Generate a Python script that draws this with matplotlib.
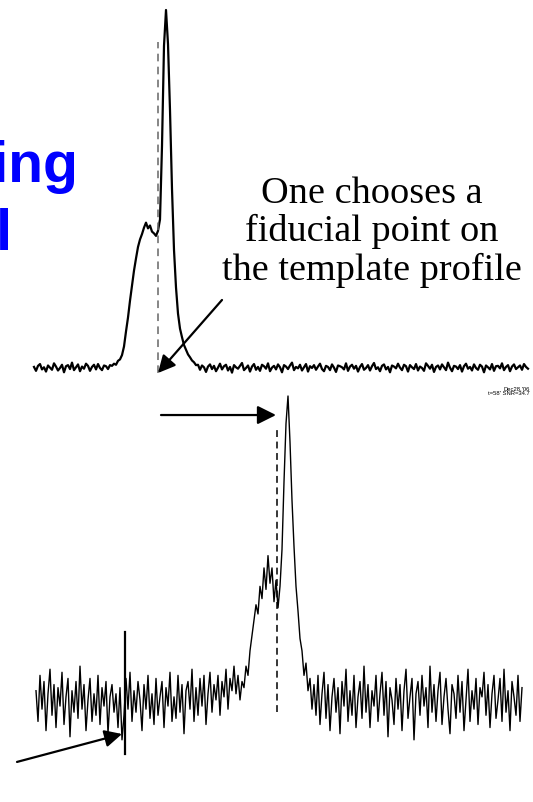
import matplotlib
matplotlib.use('Agg')
import matplotlib.pyplot as plt
import numpy as np

# template profile (percent of peak), one value per phase bin
template = [
    0.3, -0.8, 0.6, 1.1, -0.4, 0.2, -1.0, 0.7, 0.1, -0.5,
    1.3, 0.4, -0.7, 0.0, 0.9, -1.2, 0.5, 0.8, -0.3, 1.5,
    -0.6, 0.2, 1.0, -0.9, 0.4, -0.2, 1.2, 0.6, -0.8, 0.3,
    0.9, -0.4, 1.1, 0.0, -0.6, 0.7, 0.5, -0.3, 0.8,
    0.6, 1.2, 0.9, 2.0, 2.4, 3.6, 6.0, 10.2, 14.1, 18.8,
    23.0, 27.2, 30.6, 33.8, 35.9, 37.4, 39.2, 40.6, 39.0, 39.8,
    38.1, 37.6, 36.9, 38.3, 41.5, 62.0, 90.0, 100.0, 90.5, 72.0,
    50.0, 33.0, 22.5, 15.2, 11.0, 8.6, 6.4, 5.1, 3.8, 3.0,
    2.1, 1.6, 0.8, 0.9,
    -0.5, 0.7, 0.2, -1.1, 0.4, 1.0, -0.3, 0.6, -0.9, 0.1,
    1.2, -0.4, 0.5, 0.9, -0.7, 0.3, -1.3, 0.8, 0.2, -0.2,
    0.6, 1.4, -0.6, 0.0, 0.7, -1.0, 0.4, 1.1, -0.5, 0.3,
    -0.8, 0.9, 0.5, -0.2, 1.3, -0.9, 0.1, 0.6, -0.4, 1.0,
    0.2, -1.2, 0.8, 0.4, -0.3, 0.7, 1.5, -0.6, 0.3, -0.1,
    0.9, -0.7, 0.2, 1.1, -1.0, 0.5, 0.0, 0.8, -0.5, 0.4,
    1.2, -0.3, -0.9, 0.6, 0.3, -0.6, 1.0, 0.1, -1.1, 0.7,
    0.5, 0.2, -0.4, 1.3, -0.8, 0.4, 0.9, -0.2, 0.6, -1.0,
    0.3, 1.1, -0.5, 0.0, 0.8, -0.7, 0.5, 1.4, -0.3, 0.2,
    -0.9, 0.6, 1.0, -0.4, 0.3, -1.2, 0.7, 0.4, -0.1, 1.2,
    0.1, -0.6, 0.9, 0.5, -1.0, 0.8, 0.2, -0.3, 1.1, -0.7,
    0.4, 0.0, -0.8, 1.3, 0.6, -0.2, 0.9, -1.1, 0.3, 0.7,
    -0.4, 1.0, 0.2, -0.6, 1.5, 0.1, -0.9, 0.6, 0.4, -0.3,
    0.8, -1.0, 0.5, 1.2, -0.2, 0.3, -0.7, 1.0, 0.0, -0.5,
    0.9, 0.4, -1.2, 0.7, 0.2, -0.4, 1.1, -0.8, 0.5, 0.6,
    -0.1, 1.3, -0.6, 0.3, 0.8, -0.9, 0.4, 1.0, -0.3, 0.2,
    0.7, -0.5, 1.1, 0.3, -0.2,
]

# single observation (percent of peak)
observed = [
    4, -6, 9, -2, 7, -9, 3, 11, -4, 6,
    -8, 5, -1, 10, -7, 2, 8, -11, 4, -3,
    7, -5, 12, -2, 6, -9, 1, 8, -6, 3,
    -4, 9, -7, 5, -1, 7, -10, 2, 6, -3,
    3, -8, 5, -12, -4, 8, -2, 10, -6, 4,
    -3, 7, 1, -9, 6, -2, 9, -5, 3, -7,
    8, -4, 2, 7, -8, 5, -1, 10, -6, 2,
    -5, 9, -3, 6, -10, 4, 7, -2, 11, -6,
    5, -4, 8, -1, 9, -7, 3, 10, -3, 6,
    1, 9, -4, 7, 2, 11, -2, 8, 4, 12,
    3, 9, 1, 7, 5, 12, 9, 17, 22, 27,
    32, 29, 38, 34, 44, 37, 48, 39, 44, 33,
    40, 31, 38, 50, 72, 91, 100, 85, 66, 51,
    38, 30, 21, 17, 9, 13, 4, 8, -2, 6,
    -4,
    9, -7, 3, 10, -5, 6, -9, 2, 8, -3,
    5, -10, 7, -1, 11, -6, 4, -4, 9, -8,
    2, 7, -5, 12, -3, 6, -8, 4, -1, 9,
    -6, 3, 10, -4, 7, -11, 5, 1, -7, 8,
    -2, 6, -9, 4, 11, -5, 2, 8, -12, 3,
    7, -4, 9, -1, 5, -8, 12, -3, 6, -6,
    4, 10, -7, 2, 8, -2, -10, 6, 3, -5,
    9, -3, 7, -9, 1, 11, -6, 4, -2, 8,
    -7, 5, 2, 10, -4, 6, -8, 3, 9, -5,
    1, 8, -6, 11, -3, 4, -9, 7, 2, -4,
    9, -6, 5,
]

fiducial_template = 62.0
fiducial_observed = 120.5
obs_start = 44.5

caption = ['One chooses a', 'fiducial point on', 'the template profile']
stamp = ["Dec28,'06", "t=58' SNR=34.7"]

W, H = 533, 802
fig = plt.figure(figsize=(W / 100, H / 100), dpi=100)

# template on top
ax1 = fig.add_axes([0, 0, 1, 1])
ax1.set_xlim(-17, 249.5)
ax1.set_ylim(-121.23, 102.79)
ax1.axis('off')
ax1.plot(np.arange(len(template)), template, color='black', lw=1.6)
ax1.plot([fiducial_template, fiducial_template], [-1.4, 91.1],
         color='0.4', lw=1.1, ls=(0, (5, 3.5)))
ax1.annotate('', xy=(fiducial_template, -1.4), xytext=(94, 19.0),
             arrowprops=dict(arrowstyle='-|>', mutation_scale=26, lw=1.6,
                             color='black', shrinkA=0, shrinkB=0))

# observed profile below
ax2 = fig.add_axes([0, 0, 1, 1])
ax2.set_xlim(-18, 248.5)
ax2.set_ylim(-32.25, 228.99)
ax2.axis('off')
ax2.patch.set_alpha(0)
ax2.plot(np.arange(len(observed)), observed, color='black', lw=1.0)
ax2.plot([fiducial_observed, fiducial_observed], [-2.9, 89.6],
         color='black', lw=1.1, ls=(0, (4.5, 3)))
ax2.plot([obs_start, obs_start], [-16.6, 23.1], color='black', lw=1.6)
ax2.annotate('', xy=(120, 93.8), xytext=(62.5, 93.8),
             arrowprops=dict(arrowstyle='-|>', mutation_scale=28, lw=1.6,
                             color='black', shrinkA=0, shrinkB=0))
ax2.annotate('', xy=(43, -10.1), xytext=(-9.5, -19.2),
             arrowprops=dict(arrowstyle='-|>', mutation_scale=26, lw=1.6,
                             color='black', shrinkA=0, shrinkB=0))

def px(x, y):
    return x / W, 1 - y / H

# slide title, mostly off the left edge
fig.text(*px(78, 182), 'Timing', ha='right', va='baseline', color='#0000ff',
         fontsize=41, fontweight='bold', family='Liberation Sans')
fig.text(*px(12, 249), 'model', ha='right', va='baseline', color='#0000ff',
         fontsize=41, fontweight='bold', family='Liberation Sans')

for line, yb in zip(caption, [203, 241, 280]):
    fig.text(*px(372, yb), line, ha='center', va='baseline', color='black',
             fontsize=27.5, family='Liberation Serif')

for line, yb in zip(stamp, [390, 395]):
    fig.text(*px(530, yb), line, ha='right', va='baseline', color='black',
             fontsize=4.2, family='Liberation Sans')

fig.savefig('out.png', dpi=100)
